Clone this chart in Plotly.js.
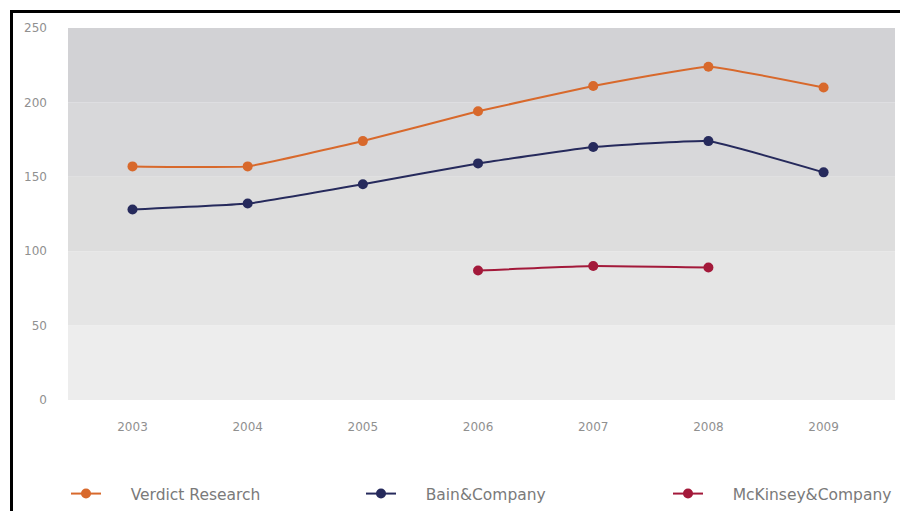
<!DOCTYPE html>
<html>
<head>
<meta charset="utf-8">
<script src="https://cdn.plot.ly/plotly-3.0.1.min.js"></script>
<style>
  html, body { margin: 0; padding: 0; background: #ffffff; }
  #wrap { position: relative; width: 900px; height: 511px; overflow: hidden; }
  #chart { width: 900px; height: 511px; }
  #frame {
    position: absolute; left: 10px; top: 10px; width: 890px; height: 501px;
    border-top: 3px solid #000; border-left: 3px solid #000; pointer-events: none;
  }
</style>
</head>
<body>
<div id="wrap">
  <div id="chart"></div>
  <div id="frame"></div>
</div>
<script>
// Years on the category axis
const years = ['2003', '2004', '2005', '2006', '2007', '2008', '2009'];

// Series values
const verdictResearch = [157, 157, 174, 194, 211, 224, 210];
const bainCompany     = [128, 132, 145, 159, 170, 174, 153];
const mckinseyYears   = ['2006', '2007', '2008'];
const mckinseyCompany = [87, 90, 89];

// Horizontal band edges (value axis) with their fill shades
const bandEdges  = [0, 50, 100, 150, 200, 250];
const bandColors = ['#ededed', '#e5e5e5', '#dddddd', '#d8d8da', '#d2d2d5'];

const shapes = bandColors.map((c, i) => ({
  type: 'rect', xref: 'paper', yref: 'y', layer: 'below',
  x0: 0, x1: 1, y0: bandEdges[i], y1: bandEdges[i + 1],
  fillcolor: c, line: { width: 0 }
}));

// Small gap between the legend symbol and its label
const gap = '\u00a0\u00a0\u00a0\u00a0\u00a0';

function series(name, x, y, color, legendId) {
  return {
    type: 'scatter', mode: 'lines+markers', name: gap + name, x: x, y: y,
    legend: legendId,
    line: { color: color, width: 2, shape: 'spline', smoothing: 0.3 },
    marker: { color: color, size: 10 }
  };
}

const data = [
  series('Verdict Research', years, verdictResearch, '#d8692c', 'legend'),
  series('Bain&Company', years, bainCompany, '#262a5c', 'legend2'),
  series('McKinsey&Company', mckinseyYears, mckinseyCompany, '#a3193a', 'legend3')
];

// One single-entry legend per series, spread along the bottom
function legendAt(xPx) {
  return {
    xref: 'container', yref: 'container',
    x: xPx / 900, xanchor: 'left', y: 1 - 494 / 511, yanchor: 'middle',
    font: { family: 'DejaVu Sans, sans-serif', size: 15.5, color: '#7a7a7a' },
    bgcolor: 'rgba(0,0,0,0)'
  };
}

const tickFont = { family: 'DejaVu Sans, sans-serif', size: 12, color: '#909090' };

const layout = {
  width: 900, height: 511,
  margin: { l: 68, r: 5, t: 28, b: 111, autoexpand: false },
  paper_bgcolor: '#ffffff',
  plot_bgcolor: '#ffffff',
  font: { family: 'DejaVu Sans, sans-serif', size: 12, color: '#8a8a8a' },
  shapes: shapes,
  showlegend: true,
  legend: legendAt(66),
  legend2: legendAt(361),
  legend3: legendAt(668),
  xaxis: {
    type: 'category', categoryorder: 'array', categoryarray: years,
    range: [-0.56, 6.62], showgrid: false, zeroline: false, showline: false,
    ticks: '', ticklabelstandoff: 18, fixedrange: true, tickangle: 0,
    tickfont: tickFont
  },
  yaxis: {
    range: [0, 250], tickvals: [0, 50, 100, 150, 200, 250],
    showgrid: false, zeroline: false, showline: false,
    ticks: '', ticklabelstandoff: 20, fixedrange: true,
    tickfont: tickFont
  }
};

Plotly.newPlot('chart', data, layout, { displayModeBar: false, staticPlot: true });
</script>
</body>
</html>
